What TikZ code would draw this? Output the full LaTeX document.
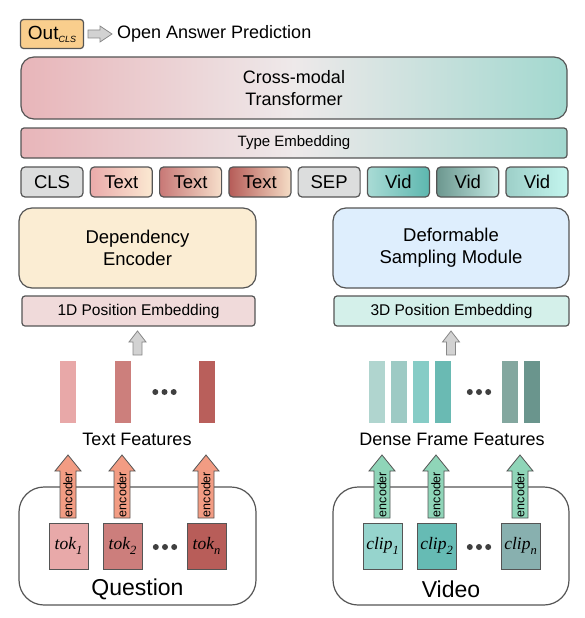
\documentclass[tikz,border=0pt]{standalone}
\usepackage{fontspec}
\setmainfont{Liberation Sans}
\newfontfamily\tmsfont{Liberation Serif}
\usetikzlibrary{calc}
\definecolor{lineGray}{HTML}{555555}
\definecolor{outFill}{HTML}{F9CE8D}
\definecolor{cmL}{HTML}{E8B5B9}
\definecolor{cmM}{HTML}{EEE9EA}
\definecolor{cmR}{HTML}{A2D8CF}
\definecolor{clsFill}{HTML}{DCDDDD}
\definecolor{tA}{HTML}{EAAAAA}\definecolor{tAr}{HTML}{FBE9D2}
\definecolor{tB}{HTML}{C87876}\definecolor{tBr}{HTML}{F6DFCB}
\definecolor{tC}{HTML}{B65C58}\definecolor{tCr}{HTML}{F5DDC6}
\definecolor{vA}{HTML}{A9DBD5}\definecolor{vAr}{HTML}{5DB7AF}
\definecolor{vB}{HTML}{6C978F}\definecolor{vBr}{HTML}{C2E8E2}
\definecolor{vC}{HTML}{9DCFC8}\definecolor{vCr}{HTML}{C4F6EF}
\definecolor{depFill}{HTML}{FBEDD3}
\definecolor{defFill}{HTML}{DEEEFD}
\definecolor{posA}{HTML}{F0DADA}
\definecolor{posC}{HTML}{D4F0EA}
\definecolor{barA}{HTML}{E8A8A8}\definecolor{barB}{HTML}{CC7F7C}\definecolor{barC}{HTML}{B95F5B}
\definecolor{vbA}{HTML}{B0D5CF}\definecolor{vbB}{HTML}{9DCAC4}\definecolor{vbC}{HTML}{86CCC6}
\definecolor{vbD}{HTML}{6ABAB3}\definecolor{vbE}{HTML}{83A79F}\definecolor{vbF}{HTML}{6A958D}
\definecolor{encT}{HTML}{F29C83}
\definecolor{encV}{HTML}{8FD5B8}
\definecolor{tokA}{HTML}{E8A9A9}\definecolor{tokB}{HTML}{CC7E7C}\definecolor{tokC}{HTML}{B85D59}
\definecolor{clA}{HTML}{96D4CD}\definecolor{clB}{HTML}{66BBB4}\definecolor{clC}{HTML}{88B0AF}
\definecolor{grayArrow}{HTML}{D2D2D2}
\definecolor{grayEdge}{HTML}{888888}
\definecolor{dotCol}{HTML}{404040}
\newcommand\myfs[1]{\fontsize{#1}{#1}\selectfont}
\newcommand\tokname[2]{{\tmsfont\itshape\myfs{17.5}#1\raisebox{-4.5pt}{\myfs{12.5}#2}}}
\newcommand\encarrow[3]{%
  \draw[lineGray, line width=0.8pt, fill=#3, line join=miter]
    (#2-8,518) -- (#2-8,471) -- (#2-13,471) -- (#2,455) -- (#2+13,471) -- (#2+8,471) -- (#2+8,518) -- cycle;
  \node[rotate=90, font=\myfs{12.5}, inner sep=0pt] (#1) at (#2,494.5) {encoder};}
\newcommand\grayup[2]{%
  \draw[grayEdge, line width=0.8pt, fill=grayArrow]
    (#2-4.5,355) -- (#2-4.5,342) -- (#2-8.5,342) -- (#2,331) -- (#2+8.5,342) -- (#2+4.5,342) -- (#2+4.5,355) -- cycle;
  \coordinate (#1) at (#2,331);}
\newcommand\threedots[2]{%
  \foreach \dx in {-9.2,0,9.2} \fill[dotCol] (#1+\dx,#2) circle (3);}
\tikzset{
  box/.style={draw=lineGray, line width=1.2pt, inner sep=0pt, align=center},
  grad/.style={left color=cmL, right color=cmR, middle color=cmM},
  tokbox/.style={box, rounded corners=4pt, minimum width=62pt, minimum height=30pt, font=\myfs{18.5}},
  bar/.style={inner sep=0pt, minimum width=16pt, minimum height=62pt},
  leaf/.style={draw=lineGray, line width=0.9pt, inner sep=0pt, minimum width=39pt, minimum height=46pt},
  lbl/.style={inner sep=0pt, font=\myfs{18}},
}
\begin{document}
\begin{tikzpicture}[x=1pt, y=-1pt]
\useasboundingbox (0,0) rectangle (584,618);
% top line
\node[box, rounded corners=3pt, fill=outFill, minimum width=63pt, minimum height=29pt] (out) at (52,34)
  {\myfs{19}Out\raisebox{-3pt}{\itshape\myfs{9}CLS}};
\draw[grayEdge, line width=0.8pt, fill=grayArrow]
  (88,30) -- (100,30) -- (100,26) -- (112,34) -- (100,42) -- (100,38) -- (88,38) -- cycle;
\node[lbl, anchor=west] (pred) at (117,34) {Open Answer Prediction};
% transformer
\node[box, rounded corners=13pt, grad,
  minimum width=546pt, minimum height=62pt, font=\fontsize{18}{22}\selectfont] (cmt) at (294,88)
  {Cross-modal\\Transformer};
\node[box, rounded corners=3pt, grad,
  minimum width=546pt, minimum height=30pt, font=\myfs{15}] (type) at (294,143) {Type Embedding};
% token row
\node[tokbox, fill=clsFill] (cls) at (52,182) {CLS};
\node[tokbox, left color=tA, right color=tAr] (txa) at (121.3,182) {Text};
\node[tokbox, left color=tB, right color=tBr] (txb) at (190.6,182) {Text};
\node[tokbox, left color=tC, right color=tCr] (txc) at (259.9,182) {Text};
\node[tokbox, fill=clsFill] (sep) at (329.1,182) {SEP};
\node[tokbox, left color=vA, right color=vAr] (vda) at (398.4,182) {Vid};
\node[tokbox, left color=vB, right color=vBr] (vdb) at (467.7,182) {Vid};
\node[tokbox, left color=vC, right color=vCr] (vdc) at (537,182) {Vid};
% encoders
\node[box, rounded corners=13pt, fill=depFill, minimum width=237pt, minimum height=80pt,
  font=\fontsize{18.5}{22}\selectfont] (dep) at (137.5,248) {Dependency\\Encoder};
\node[box, rounded corners=13pt, fill=defFill, minimum width=236pt, minimum height=80pt,
  font=\fontsize{18.5}{22}\selectfont] (dsm) at (451,248) {Deformable\\Sampling Module};
\node[box, rounded corners=3pt, fill=posA, minimum width=233pt, minimum height=30pt, font=\myfs{15.5}]
  (posa) at (138.5,311) {1D Position Embedding};
\node[box, rounded corners=3pt, fill=posC, minimum width=235pt, minimum height=30pt, font=\myfs{15.5}]
  (posc) at (451.5,311) {3D Position Embedding};
\grayup{upa}{137.5}
\grayup{upc}{451}
% features
\node[bar, fill=barA] (fa) at (68,392) {};
\node[bar, fill=barB] (fb) at (123,392) {};
\node[bar, fill=barC] (fc) at (206.5,392) {};
\threedots{164.5}{392}
\node[bar, fill=vbA] (ga) at (377,392) {};
\node[bar, fill=vbB] (gb) at (399,392) {};
\node[bar, fill=vbC] (gc) at (421,392) {};
\node[bar, fill=vbD] (gd) at (443,392) {};
\node[bar, fill=vbE] (ge) at (510,392) {};
\node[bar, fill=vbF] (gf) at (532,392) {};
\threedots{479}{392}
\node[lbl] (tf) at (137,439) {Text Features};
\node[lbl] (dff) at (452,439) {Dense Frame Features};
% inputs
\node[draw=lineGray, line width=1.2pt, rounded corners=25pt, minimum width=237pt, minimum height=118pt]
  (qbox) at (137.5,546) {};
\node[draw=lineGray, line width=1.2pt, rounded corners=25pt, minimum width=236pt, minimum height=118pt]
  (vbox) at (451,546) {};
\encarrow{ea}{68}{encT}
\encarrow{eb}{122}{encT}
\encarrow{ec}{206}{encT}
\encarrow{eva}{382}{encV}
\encarrow{evb}{436}{encV}
\encarrow{evc}{520}{encV}
\node[leaf, fill=tokA] (toka) at (68.5,546) {\tokname{tok}{1}};
\node[leaf, fill=tokB] (tokb) at (122.5,546) {\tokname{tok}{2}};
\node[leaf, fill=tokC] (tokc) at (206.5,546) {\tokname{tok}{n}};
\threedots{165}{547}
\node[leaf, fill=clA] (clpa) at (382.5,546) {\tokname{clip}{1}};
\node[leaf, fill=clB] (clpb) at (436.5,546) {\tokname{clip}{2}};
\node[leaf, fill=clC] (clpc) at (520.5,546) {\tokname{clip}{n}};
\threedots{479}{547}
\node[inner sep=0pt, font=\myfs{23}] (q) at (137.5,589) {Question};
\node[inner sep=0pt, font=\myfs{23}] (v) at (451,589) {Video};
\end{tikzpicture}
\end{document}
